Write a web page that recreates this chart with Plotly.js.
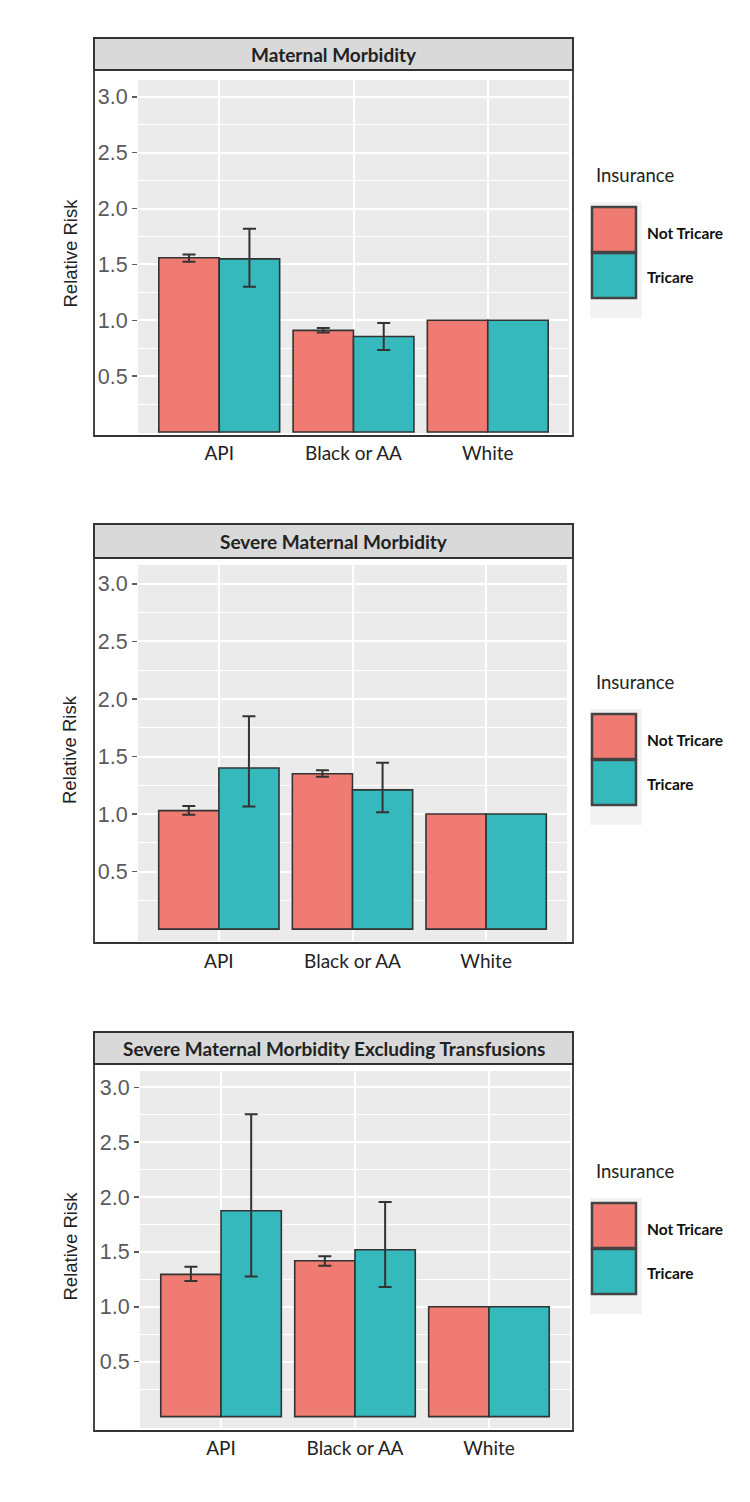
<!DOCTYPE html>
<html>
<head>
<meta charset="utf-8">
<script src="https://cdn.plot.ly/plotly-3.0.1.min.js"></script>
<style>html,body{margin:0;padding:0;background:#fff;}#chart{width:750px;height:1502px;}</style>
</head>
<body>
<div id="chart"></div>
<script>
// ---------------- data ----------------
const categories = ['API', 'Black or AA', 'White'];
const seriesNames = ['Not Tricare', 'Tricare'];
const panelTitles = [
  'Maternal Morbidity',
  'Severe Maternal Morbidity',
  'Severe Maternal Morbidity Excluding Transfusions'
];
const yTickVals = [0.5, 1.0, 1.5, 2.0, 2.5, 3.0];
const yTickText = ['0.5', '1.0', '1.5', '2.0', '2.5', '3.0'];
const yMinorVals = [0.25, 0.75, 1.25, 1.75, 2.25, 2.75];

// Panel 1: Maternal Morbidity
const mm_notTricare = [1.56, 0.91, 1.00];
const mm_notTricareLo = [1.525, 0.89, null];
const mm_notTricareHi = [1.59, 0.93, null];
const mm_tricare = [1.55, 0.855, 1.00];
const mm_tricareLo = [1.30, 0.735, null];
const mm_tricareHi = [1.82, 0.975, null];

// Panel 2: Severe Maternal Morbidity
const smm_notTricare = [1.03, 1.35, 1.00];
const smm_notTricareLo = [0.995, 1.325, null];
const smm_notTricareHi = [1.07, 1.38, null];
const smm_tricare = [1.40, 1.21, 1.00];
const smm_tricareLo = [1.065, 1.015, null];
const smm_tricareHi = [1.85, 1.445, null];

// Panel 3: SMM excluding transfusions
const smmx_notTricare = [1.295, 1.42, 1.00];
const smmx_notTricareLo = [1.235, 1.375, null];
const smmx_notTricareHi = [1.365, 1.46, null];
const smmx_tricare = [1.875, 1.52, 1.00];
const smmx_tricareLo = [1.275, 1.18, null];
const smmx_tricareHi = [2.755, 1.955, null];

// ---------------- styling ----------------
const W = 750, H = 1502;
const RED = '#EF7B73', TEAL = '#35B9BD';
const NARROW = 'Lato, "Liberation Sans", sans-serif';
const SANS = '"Liberation Sans", Arial, sans-serif';

// pixel geometry of each panel (gray plotting region, strip, box)
const panels = [
  {gx: [138, 569], gy: [80, 433], yr: [-0.009, 3.151], box: [94, 573, 38, 436], strip: [38, 70], leg: 175,
   data: [[mm_notTricare, mm_notTricareLo, mm_notTricareHi], [mm_tricare, mm_tricareLo, mm_tricareHi]]},
  {gx: [138, 567], gy: [565, 941], yr: [-0.103, 3.164], box: [94, 573, 524, 943], strip: [524, 558], leg: 682,
   data: [[smm_notTricare, smm_notTricareLo, smm_notTricareHi], [smm_tricare, smm_tricareLo, smm_tricareHi]]},
  {gx: [140, 570], gy: [1071, 1428], yr: [-0.104, 3.148], box: [94, 573, 1032, 1431], strip: [1032, 1064], leg: 1171,
   data: [[smmx_notTricare, smmx_notTricareLo, smmx_notTricareHi], [smmx_tricare, smmx_tricareLo, smmx_tricareHi]]}
];

const px = x => x / W;
const py = y => 1 - y / H;

const traces = [];
const layout = {
  width: W, height: H,
  margin: {l: 0, r: 0, t: 0, b: 0},
  paper_bgcolor: '#ffffff',
  plot_bgcolor: '#EBEBEB',
  barmode: 'group',
  bargap: 0.1,
  bargroupgap: 0,
  showlegend: false,
  shapes: [],
  annotations: []
};

const colors = [RED, TEAL];

panels.forEach((p, i) => {
  const n = i + 1;
  const xa = n === 1 ? 'x' : 'x' + n;
  const ya = n === 1 ? 'y' : 'y' + n;
  p.data.forEach((d, s) => {
    const vals = d[0], lo = d[1], hi = d[2];
    traces.push({
      type: 'bar',
      name: seriesNames[s],
      x: categories,
      y: vals,
      xaxis: xa, yaxis: ya,
      marker: {color: colors[s], line: {color: '#333333', width: 1.6}},
      error_y: {
        type: 'data', symmetric: false,
        array: vals.map((v, k) => hi[k] == null ? NaN : hi[k] - v),
        arrayminus: vals.map((v, k) => lo[k] == null ? NaN : v - lo[k]),
        color: '#333333', thickness: 2, width: 6.5
      },
      hoverinfo: 'x+y+name'
    });
  });

  layout['xaxis' + (n === 1 ? '' : n)] = {
    domain: [px(p.gx[0]), px(p.gx[1])],
    anchor: ya,
    type: 'category',
    range: [-0.605, 2.605],
    showgrid: true, gridcolor: '#ffffff', gridwidth: 2,
    zeroline: false, showline: false,
    ticks: 'outside', ticklen: 3, tickcolor: 'rgba(0,0,0,0)',
    tickfont: {family: NARROW, size: 19, color: '#222222'},
    fixedrange: true
  };
  layout['yaxis' + (n === 1 ? '' : n)] = {
    domain: [py(p.gy[1]), py(p.gy[0])],
    anchor: xa,
    range: p.yr,
    tickmode: 'array', tickvals: yTickVals, ticktext: yTickText,
    showgrid: true, gridcolor: '#ffffff', gridwidth: 2,
    minor: {tickmode: 'array', tickvals: yMinorVals, showgrid: true, gridcolor: '#ffffff', gridwidth: 1, ticks: ''},
    zeroline: false, showline: false,
    ticks: 'outside', ticklen: 5, tickwidth: 1.5, tickcolor: '#5a5a5a',
    tickfont: {family: SANS, size: 21.5, color: '#5a5a5a'},
    fixedrange: true
  };

  // strip + box
  const [bx0, bx1, by0, by1] = p.box;
  layout.shapes.push({type: 'rect', xref: 'paper', yref: 'paper', layer: 'below',
    x0: px(bx0), x1: px(bx1), y0: py(p.strip[1]), y1: py(p.strip[0]),
    fillcolor: '#D9D9D9', line: {color: '#333333', width: 1.8}});
  layout.shapes.push({type: 'rect', xref: 'paper', yref: 'paper', layer: 'above',
    x0: px(bx0), x1: px(bx1), y0: py(by1), y1: py(by0),
    fillcolor: 'rgba(0,0,0,0)', line: {color: '#333333', width: 1.8}});
  layout.annotations.push({xref: 'paper', yref: 'paper', x: px((bx0 + bx1) / 2), y: py((p.strip[0] + p.strip[1]) / 2),
    text: '<b>' + panelTitles[i] + '</b>', showarrow: false, xanchor: 'center', yanchor: 'middle',
    font: {family: NARROW, size: 19, color: '#222222'}});

  // y axis title
  layout.annotations.push({xref: 'paper', yref: 'paper', x: px(70), y: py((p.gy[0] + p.gy[1]) / 2 - 3),
    text: 'Relative Risk', textangle: -90, showarrow: false, xanchor: 'center', yanchor: 'middle',
    font: {family: SANS, size: 18.5, color: '#222222'}});

  // legend
  const L = p.leg;
  layout.shapes.push({type: 'rect', xref: 'paper', yref: 'paper', layer: 'below',
    x0: px(590), x1: px(642), y0: py(L + 143), y1: py(L + 27),
    fillcolor: '#F3F3F3', line: {width: 0}});
  layout.annotations.push({xref: 'paper', yref: 'paper', x: px(594), y: py(L),
    text: 'Insurance', showarrow: false, xanchor: 'left', yanchor: 'middle',
    font: {family: NARROW, size: 18.5, color: '#222222'}});
  seriesNames.forEach((nm, s) => {
    const top = L + 32 + s * 46;
    layout.shapes.push({type: 'rect', xref: 'paper', yref: 'paper', layer: 'above',
      x0: px(592), x1: px(636), y0: py(top + 45), y1: py(top),
      fillcolor: colors[s], line: {color: '#444444', width: 2.5}});
    layout.annotations.push({xref: 'paper', yref: 'paper', x: px(645), y: py(L + 58 + s * 44),
      text: '<b>' + nm + '</b>', showarrow: false, xanchor: 'left', yanchor: 'middle',
      font: {family: NARROW, size: 15.5, color: '#111111'}});
  });
});

Plotly.newPlot('chart', traces, layout, {displayModeBar: false, staticPlot: true});
</script>
</body>
</html>
